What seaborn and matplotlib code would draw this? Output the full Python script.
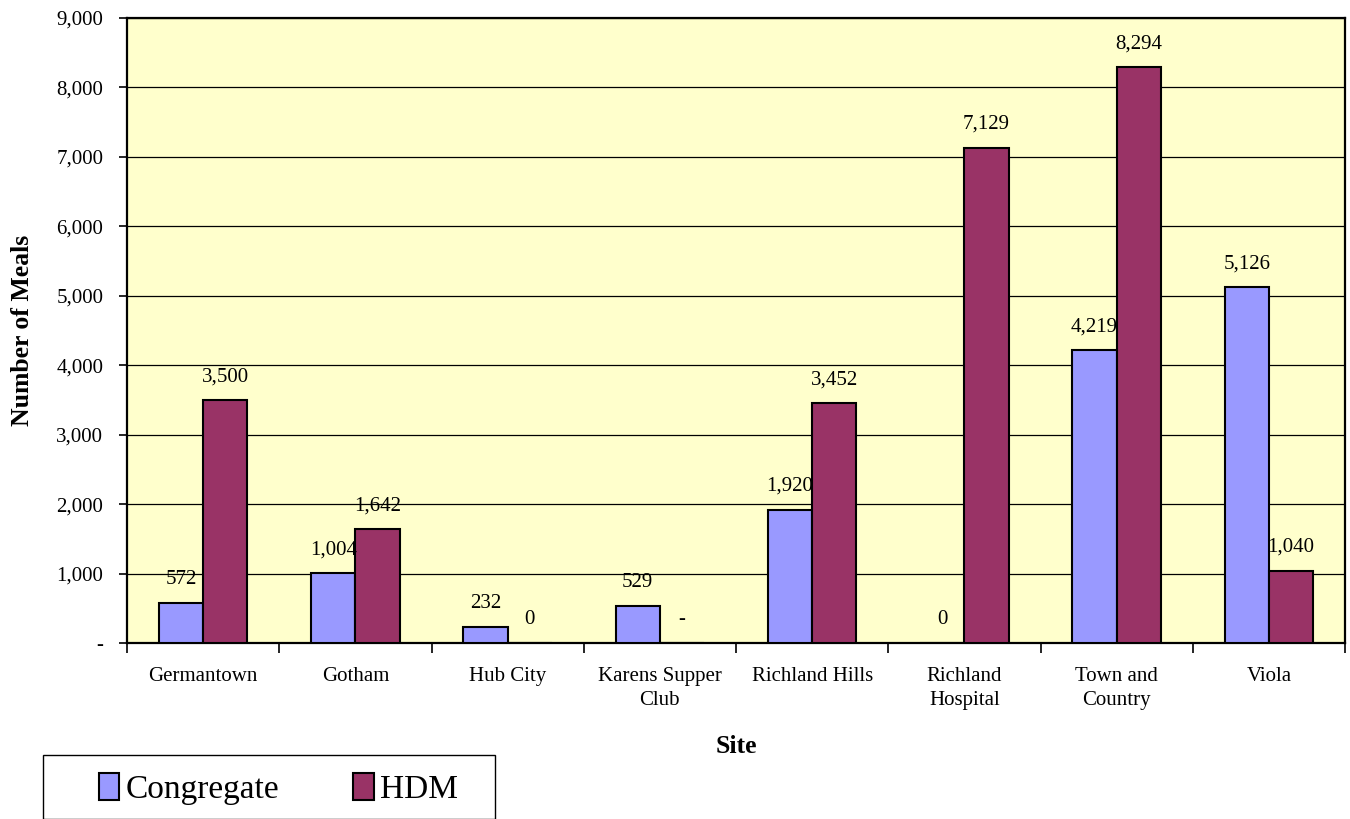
import matplotlib
matplotlib.use("Agg")
import matplotlib.pyplot as plt
import matplotlib.patches as mpatches
from matplotlib.ticker import FixedLocator, FuncFormatter
import numpy as np
import pandas as pd
import seaborn as sns

# Meals served per site
sites = ["Germantown", "Gotham", "Hub City", "Karens Supper\nClub",
         "Richland Hills", "Richland\nHospital", "Town and\nCountry", "Viola"]
congregate = [572, 1004, 232, 529, 1920, 0, 4219, 5126]
hdm = [3500, 1642, 0, 0, 3452, 7129, 8294, 1040]
# Karens Supper Club has no HDM entry; its label reads as a dash
hdm_blank = [False, False, False, True, False, False, False, False]
series = ["Congregate", "HDM"]
colors = {"Congregate": "#9999FF", "HDM": "#993366"}

df = pd.DataFrame({
    "Site": sites * 2,
    "Meals": congregate + hdm,
    "Type": ["Congregate"] * len(sites) + ["HDM"] * len(sites),
})

sns.set_theme(style="white")
plt.rcParams["font.family"] = ["Liberation Serif", "DejaVu Serif"]
plt.rcParams["text.color"] = "black"

fig = plt.figure(figsize=(13.5, 8.19), dpi=100)
ax = fig.add_axes([127 / 1350, 1 - 643 / 819, 1218 / 1350, 625 / 819])
ax.set_facecolor("#FFFFCC")

sns.barplot(data=df, x="Site", y="Meals", hue="Type", hue_order=series,
            palette=colors, width=0.58, gap=0, edgecolor="black",
            linewidth=1.5, saturation=1, legend=False, ax=ax, zorder=3)

ax.set_ylim(0, 9000)
ax.set_xlim(-0.5, len(sites) - 0.5)
ax.yaxis.set_major_locator(FixedLocator(np.arange(0, 9001, 1000)))
ax.yaxis.set_major_formatter(FuncFormatter(lambda v, p: "-" if v == 0 else f"{int(v):,}"))
ax.grid(axis="y", color="black", linewidth=0.9, zorder=0)
ax.grid(axis="x", visible=False)
ax.set_axisbelow(True)

for s in ax.spines.values():
    s.set_visible(True)
    s.set_color("black")
    s.set_linewidth(1.6)

# Value labels above bars
con_labels = [f"{v:,}" for v in congregate]
hdm_labels = ["-" if b else f"{v:,}" for v, b in zip(hdm, hdm_blank)]
for cont, labs in zip(ax.containers, [con_labels, hdm_labels]):
    ax.bar_label(cont, labels=labs, padding=10, fontsize=15, color="black")

# Category ticks: marks at boundaries, labels at centers
ax.set_xticks(np.arange(len(sites)))
ax.set_xticklabels(sites)
ax.set_xticks(np.arange(-0.5, len(sites)), minor=True)
ax.tick_params(axis="x", which="major", length=0, pad=17, labelsize=15, colors="black")
ax.tick_params(axis="x", which="minor", length=7, width=1.2, direction="out",
               bottom=True, color="black")
ax.tick_params(axis="y", which="major", length=6, width=1.2, direction="out",
               left=True, pad=11, labelsize=15, colors="black")
for t in ax.get_xticklabels():
    t.set_linespacing(1.35)

ax.set_xlabel("Site", fontsize=18.5, fontweight="bold", labelpad=18, color="black")
ax.set_ylabel("Number of Meals", fontsize=18.5, fontweight="bold", labelpad=16, color="black")

# Legend box along the bottom edge
fig.patches.append(mpatches.Rectangle((43 / 1350, 0), 452 / 1350, 64 / 819,
                                      transform=fig.transFigure, facecolor="white",
                                      edgecolor="black", linewidth=1.0, zorder=1))
handles = [mpatches.Patch(facecolor=colors[s], edgecolor="black", linewidth=1.5, label=s)
           for s in series]
leg = fig.legend(handles=handles, loc="center left", bbox_to_anchor=(82 / 1350, 30 / 819),
                 ncol=2, frameon=False, fontsize=24, handlelength=0.62, handleheight=0.85,
                 handletextpad=0.2, columnspacing=2.2, borderpad=0)
for t in leg.get_texts():
    t.set_color("black")

fig.savefig("out.png", dpi=100)
